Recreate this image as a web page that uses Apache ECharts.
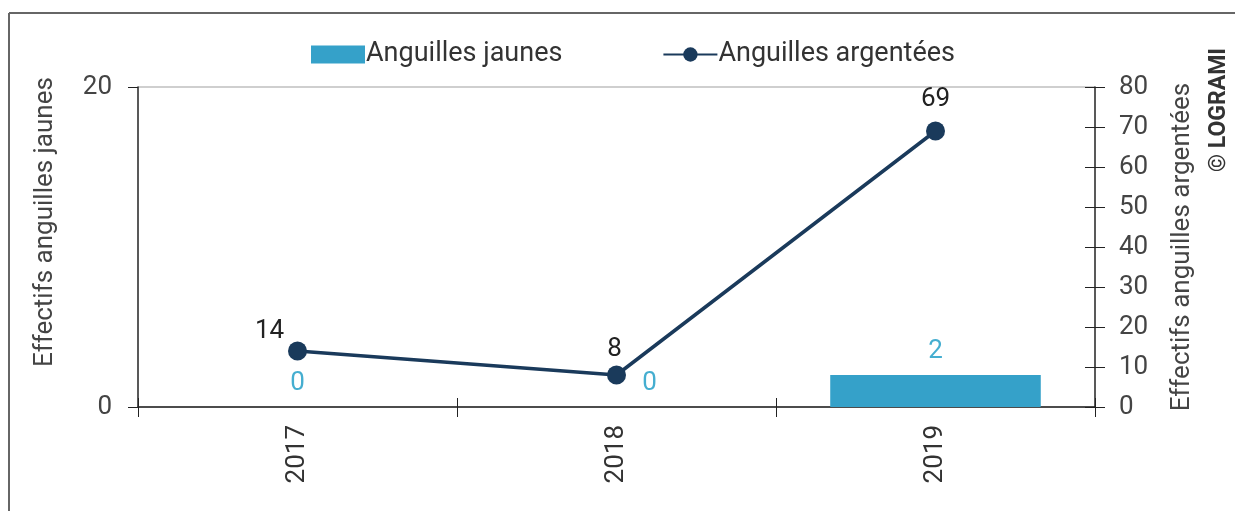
<!DOCTYPE html>
<html>
<head>
<meta charset="utf-8">
<script src="https://cdn.jsdelivr.net/npm/echarts@6/dist/echarts.min.js"></script>
<style>
html,body{margin:0;padding:0;background:#fff;}
#chart{width:1235px;height:511px;}
</style>
</head>
<body>
<div id="chart"></div>
<script>
const years = ['2017', '2018', '2019'];
const jaunes = [0, 0, 2];
const argentees = [14, 8, 69];
const leftTicks = [0, 20];
const rightTicks = [0, 10, 20, 30, 40, 50, 60, 70, 80];

const FONT = 'Roboto';
const FS = 26;
const chart = echarts.init(document.getElementById('chart'));
const barLabelOffsets = [[0, 0], [33, 0], [0, 0]];
const lineLabelOffsets = [[-28, 8], [-2, 2], [0, -4]];

chart.setOption({
  animation: false,
  textStyle: { fontFamily: FONT },
  grid: { left: 138, right: 140, top: 87, bottom: 104 },
  legend: {
    top: 36, left: 306,
    itemWidth: 54, itemHeight: 18, itemGap: 100,
    textStyle: { fontSize: 27, color: '#333', fontFamily: FONT, padding: [0,0,0,-4] },
    data: [
      { name: 'Anguilles jaunes', icon: 'rect' },
      { name: 'Anguilles argentées' }
    ]
  },
  xAxis: [{
    type: 'category', data: years, position: 'bottom',
    axisLine: { lineStyle: { color: '#222', width: 1.5 } },
    axisTick: { show: true, length: 10, lineStyle: { color: '#222' } },
    axisLabel: { rotate: 90, fontSize: FS, color: '#333', margin: 18 },
    splitLine: { show: false }
  }, {
    type: 'category', data: years, position: 'bottom', offset: 0,
    axisLine: { show: true, onZero: false, lineStyle: { color: 'rgba(0,0,0,0)' } },
    axisTick: { show: true, inside: true, length: 9, lineStyle: { color: '#222' } },
    axisLabel: { show: false },
    splitLine: { show: false }
  }],
  yAxis: [{
    type: 'value', min: 0, max: 20, interval: 20, position: 'left',
    name: 'Effectifs anguilles jaunes', nameLocation: 'middle', nameGap: 80, nameRotate: 90,
    nameTextStyle: { fontSize: FS, color: '#444', padding: [0, 0, 0, 50] },
    axisLine: { show: true, lineStyle: { color: '#222', width: 1.5 } },
    axisTick: { show: true, length: 10, lineStyle: { color: '#222' } },
    axisLabel: { fontSize: FS, color: '#444', margin: 26 },
    splitLine: { show: true, lineStyle: { color: '#cfcfcf', width: 2 } }
  }, {
    type: 'value', min: 0, max: 80, interval: 10, position: 'right',
    name: 'Effectifs anguilles argentées', nameLocation: 'middle', nameGap: 74, nameRotate: 90,
    nameTextStyle: { fontSize: FS, color: '#444' },
    axisLine: { show: true, lineStyle: { color: '#222', width: 1.5 } },
    axisTick: { show: true, length: 10, lineStyle: { color: '#222' } },
    axisLabel: { fontSize: FS, color: '#444', margin: 24 },
    splitLine: { show: false }
  }, {
    type: 'value', min: 0, max: 80, interval: 10, position: 'right', offset: 0,
    axisLine: { show: true, onZero: false, lineStyle: { color: 'rgba(0,0,0,0)' } },
    axisTick: { show: true, inside: true, length: 10, lineStyle: { color: '#222' } },
    axisLabel: { show: false },
    splitLine: { show: false }
  }],
  series: [{
    name: 'Anguilles jaunes', type: 'bar', xAxisIndex: 0, yAxisIndex: 0,
    barWidth: '66%',
    itemStyle: { color: '#35a1c9' },
    data: jaunes.map((v, i) => ({ value: v, label: { offset: barLabelOffsets[i] } })),
    label: { show: true, position: 'top', distance: 11, fontSize: FS, color: '#45aed0' }
  }, {
    name: 'Anguilles argentées', type: 'line', xAxisIndex: 0, yAxisIndex: 1,
    symbol: 'circle', symbolSize: 19,
    lineStyle: { color: '#1a3a5b', width: 3.5 },
    itemStyle: { color: '#1a3a5b' },
    data: argentees.map((v, i) => ({ value: v, label: { offset: lineLabelOffsets[i] } })),
    label: { show: true, position: 'top', distance: 5, fontSize: FS, color: '#222' },
    z: 5
  }, {
    name: 'ticks', type: 'line', xAxisIndex: 1, yAxisIndex: 2,
    data: years.map(() => '-'), silent: true, showSymbol: false
  }],
  graphic: [
    { type: 'line', shape: { x1: 9, y1: 13, x2: 1235, y2: 13 }, style: { stroke: '#666', lineWidth: 2 } },
    { type: 'line', shape: { x1: 9, y1: 13, x2: 9, y2: 511 }, style: { stroke: '#666', lineWidth: 2 } },
    { type: 'text', x: 1219, y: 110, rotation: Math.PI / 2,
      style: { text: '© LOGRAMI', font: 'bold 23px ' + FONT, fill: '#333', textAlign: 'center', textVerticalAlign: 'middle' } }
  ]
});
</script>
</body>
</html>
